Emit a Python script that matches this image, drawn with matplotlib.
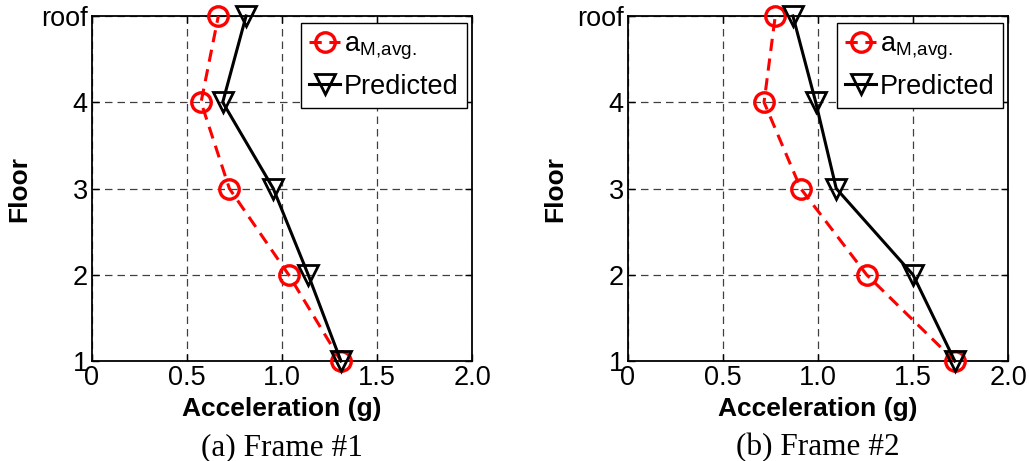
import matplotlib
matplotlib.use("Agg")
import matplotlib.pyplot as plt

plt.rcParams['font.family'] = ['Liberation Sans', 'DejaVu Sans']
plt.rcParams['mathtext.fontset'] = 'custom'
plt.rcParams['mathtext.rm'] = 'Liberation Sans'

# --- data ---
floors = [1, 2, 3, 4, 5]
floor_labels = ['1', '2', '3', '4', 'roof']
x_ticks = [0, 0.5, 1.0, 1.5, 2.0]
x_tick_labels = ['0', '0.5', '1.0', '1.5', '2.0']

frame1_measured = [1.31, 1.035, 0.723, 0.574, 0.665]
frame1_predicted = [1.31, 1.138, 0.954, 0.688, 0.811]
frame2_measured = [1.72, 1.256, 0.909, 0.716, 0.775]
frame2_predicted = [1.72, 1.50, 1.096, 0.988, 0.868]

captions = ['(a) Frame #1', '(b) Frame #2']

fig = plt.figure(figsize=(10.29, 4.61), dpi=100)
ax1 = fig.add_axes([0.0894, 0.2169, 0.3693, 0.7484])
ax2 = fig.add_axes([0.6103, 0.2169, 0.3693, 0.7484])

panels = [(ax1, frame1_measured, frame1_predicted, captions[0]),
          (ax2, frame2_measured, frame2_predicted, captions[1])]

for ax, meas, pred, cap in panels:
    ax.plot(meas, floors, color='red', ls='--', lw=2.2, dashes=(4, 2.5),
            marker='o', ms=14, mfc='none', mec='red', mew=2.4,
            clip_on=False, zorder=3, label=r'$\mathregular{a_{M{,}avg.}}$')
    ax.plot(pred, floors, color='black', ls='-', lw=2.2,
            marker='v', ms=15, mfc='none', mec='black', mew=2.0,
            clip_on=False, zorder=4, label='Predicted')

    ax.set_xlim(0, 2)
    ax.set_ylim(1, 5)
    ax.set_xticks(x_ticks)
    ax.set_xticklabels(x_tick_labels)
    ax.set_yticks(floors)
    ax.set_yticklabels(floor_labels)
    ax.tick_params(direction='in', length=5, width=1, labelsize=19.5,
                   top=True, right=True, pad=3)
    ax.grid(True, color='0.25', ls='--', lw=0.9, dashes=(6, 4))
    for sp in ax.spines.values():
        sp.set_linewidth(1.3)

    ax.set_xlabel('Acceleration (g)', fontsize=19, fontweight='bold', labelpad=4)
    ax.set_ylabel('Floor', fontsize=19, fontweight='bold', labelpad=7)

    leg = ax.legend(loc='upper right', bbox_to_anchor=(0.987, 0.98),
                    borderaxespad=0, fontsize=19.5, handlelength=1.15,
                    handletextpad=0.15, borderpad=0.3, labelspacing=0.45,
                    fancybox=False, framealpha=1, edgecolor='black')
    leg.get_frame().set_linewidth(1.0)

    ax.text(0.5, -0.252, cap, transform=ax.transAxes, ha='center', va='center',
            fontsize=22.5, family=['Liberation Serif', 'DejaVu Serif'])

fig.savefig('out.png', dpi=100)
